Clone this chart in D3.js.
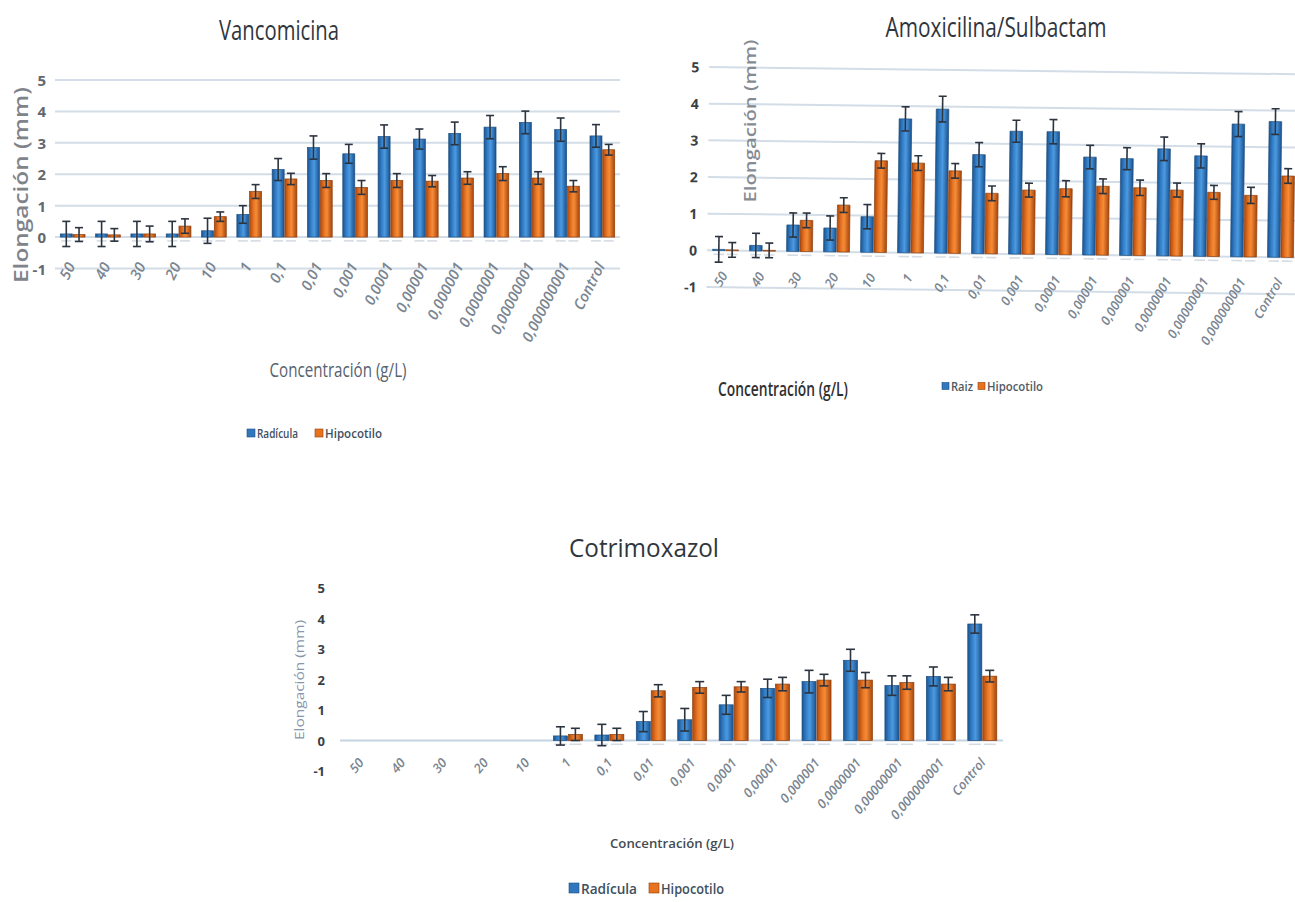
<!DOCTYPE html>
<html>
<head>
<meta charset="utf-8">
<script src="https://cdn.jsdelivr.net/npm/d3@7"></script>
<style>
  body { margin: 0; background: #fff; }
  svg { display: block; }
</style>
</head>
<body>
<svg id="fig" width="1295" height="902"></svg>
<script>
// Concentration categories (g/L), shared by the three panels
const categories = ["50", "40", "30", "20", "10", "1", "0,1", "0,01", "0,001", "0,0001",
  "0,00001", "0,000001", "0,0000001", "0,00000001", "0,000000001", "Control"];
const yTicks = [-1, 0, 1, 2, 3, 4, 5];

// Vancomicina: mean elongation (mm) and error
const vancoRadicula      = [0.10, 0.10, 0.10, 0.10, 0.20, 0.72, 2.15, 2.85, 2.65, 3.20, 3.12, 3.30, 3.50, 3.65, 3.42, 3.22];
const vancoRadiculaErr   = [0.40, 0.40, 0.40, 0.40, 0.40, 0.28, 0.35, 0.37, 0.30, 0.37, 0.32, 0.36, 0.37, 0.36, 0.37, 0.36];
const vancoHipocotilo    = [0.08, 0.07, 0.10, 0.35, 0.65, 1.45, 1.85, 1.80, 1.58, 1.80, 1.78, 1.88, 2.02, 1.88, 1.62, 2.78];
const vancoHipocotiloErr = [0.22, 0.20, 0.25, 0.23, 0.15, 0.22, 0.18, 0.22, 0.22, 0.22, 0.18, 0.20, 0.22, 0.20, 0.18, 0.17];

// Amoxicilina/Sulbactam
const amoxRaiz           = [0.03, 0.15, 0.72, 0.65, 0.97, 3.65, 3.93, 2.70, 3.35, 3.35, 2.67, 2.64, 2.92, 2.74, 3.62, 3.70];
const amoxRaizErr        = [0.35, 0.33, 0.33, 0.33, 0.33, 0.33, 0.35, 0.33, 0.30, 0.33, 0.32, 0.30, 0.32, 0.33, 0.34, 0.35];
const amoxHipocotilo     = [0.02, 0.02, 0.85, 1.28, 2.50, 2.45, 2.25, 1.65, 1.75, 1.80, 1.88, 1.85, 1.80, 1.75, 1.68, 2.22];
const amoxHipocotiloErr  = [0.20, 0.20, 0.20, 0.20, 0.20, 0.20, 0.20, 0.20, 0.19, 0.22, 0.20, 0.21, 0.19, 0.19, 0.22, 0.20];

// Cotrimoxazol (no growth recorded at the five highest concentrations)
const cotriRadicula      = [null, null, null, null, null, 0.15, 0.18, 0.62, 0.68, 1.17, 1.71, 1.93, 2.63, 1.80, 2.10, 3.82];
const cotriRadiculaErr   = [null, null, null, null, null, 0.30, 0.35, 0.33, 0.37, 0.31, 0.30, 0.37, 0.36, 0.32, 0.31, 0.30];
const cotriHipocotilo    = [null, null, null, null, null, 0.20, 0.20, 1.63, 1.74, 1.76, 1.85, 1.98, 1.98, 1.90, 1.85, 2.11];
const cotriHipocotiloErr = [null, null, null, null, null, 0.20, 0.20, 0.20, 0.19, 0.17, 0.22, 0.19, 0.25, 0.22, 0.22, 0.19];

const svg = d3.select("#fig");
const defs = svg.append("defs");
const FONT = "'Open Sans', 'Noto Sans', 'DejaVu Sans', sans-serif";

function gradient(id, stops) {
  const lg = defs.append("linearGradient").attr("id", id)
    .attr("x1", 0).attr("x2", 1).attr("y1", 0).attr("y2", 0);
  stops.forEach(([o, c]) => lg.append("stop").attr("offset", o).attr("stop-color", c));
}
gradient("gBlue",   [[0, "#1b5490"], [0.3, "#347fc8"], [0.55, "#4b9ae0"], [1, "#1a5190"]]);
gradient("gOrange", [[0, "#ad480c"], [0.35, "#eb7826"], [0.55, "#f58c37"], [1, "#a8450b"]]);

const seriesStyle = [
  { fill: "url(#gBlue)",   stroke: "#1e4f80", swatch: "#2f78c0" },
  { fill: "url(#gOrange)", stroke: "#8f3f0c", swatch: "#e8731f" }
];

function addText(parent, txt, o) {
  const t = parent.append("text").text(txt)
    .attr("x", o.x).attr("y", o.y)
    .attr("font-family", FONT)
    .attr("font-size", o.size)
    .attr("font-weight", o.weight || "normal")
    .attr("fill", o.color || "#404040")
    .attr("text-anchor", o.anchor || "middle")
    .attr("dominant-baseline", o.baseline || "central");
  if (o.len) t.attr("textLength", o.len).attr("lengthAdjust", "spacingAndGlyphs");
  if (o.rotate) t.attr("transform", `rotate(${o.rotate},${o.x},${o.y})`);
  return t;
}

function panel(p) {
  const root = svg.append("g");
  const g = root.append("g");
  const y = d3.scaleLinear().domain([-1, 5]).range(p.yRange);
  if (p.tilt) g.attr("transform", `rotate(${p.tilt},${p.xRange[0]},${y(0)})`);

  const x = d3.scaleBand().domain(categories).range(p.xRange)
    .paddingInner(0.3).paddingOuter(0.15);
  const xs = d3.scaleBand().domain([0, 1]).range([0, x.bandwidth()]).paddingInner(0.06);

  // horizontal gridlines
  g.selectAll("line.grid").data(p.gridTicks).enter().append("line")
    .attr("x1", p.gridX[0]).attr("x2", p.gridX[1])
    .attr("y1", d => y(d)).attr("y2", d => y(d))
    .attr("stroke", p.gridColor).attr("stroke-width", 2);

  // value axis tick labels
  g.selectAll("text.tick").data(yTicks).enter().append("text")
    .attr("x", p.tickX).attr("y", d => y(d))
    .attr("text-anchor", "end").attr("dominant-baseline", "central")
    .attr("font-family", FONT).attr("font-size", p.tickSize).attr("font-weight", "bold")
    .attr("fill", p.tickColor).text(d => d);

  p.series.forEach((s, k) => {
    const st = seriesStyle[k];
    const rows = categories.map((c, i) => ({ c, v: s.values[i], e: s.errors[i] }))
      .filter(d => d.v !== null);
    const bx = d => x(d.c) + xs(k);
    const bw = xs.bandwidth();

    // faint reflection under each bar
    g.selectAll(null).data(rows).enter().append("rect")
      .attr("x", d => bx(d) + 1).attr("width", bw - 2)
      .attr("y", y(0) + 3).attr("height", 1.6)
      .attr("fill", "#d6dce3");

    g.selectAll(null).data(rows).enter().append("rect")
      .attr("x", bx).attr("width", bw)
      .attr("y", d => y(Math.max(d.v, 0)))
      .attr("height", d => Math.abs(y(d.v) - y(0)))
      .attr("fill", st.fill).attr("stroke", st.stroke).attr("stroke-width", 0.7);

    // error bars
    const eb = g.selectAll(null).data(rows).enter().append("g")
      .attr("stroke", "#2c3440").attr("stroke-width", 1.6);
    const cx = d => bx(d) + bw / 2;
    eb.append("line").attr("x1", cx).attr("x2", cx)
      .attr("y1", d => y(d.v - d.e)).attr("y2", d => y(d.v + d.e));
    eb.append("line").attr("x1", d => cx(d) - p.cap).attr("x2", d => cx(d) + p.cap)
      .attr("y1", d => y(d.v + d.e)).attr("y2", d => y(d.v + d.e));
    eb.append("line").attr("x1", d => cx(d) - p.cap).attr("x2", d => cx(d) + p.cap)
      .attr("y1", d => y(d.v - d.e)).attr("y2", d => y(d.v - d.e));
  });

  // rotated category labels
  g.selectAll("text.cat").data(categories).enter().append("text")
    .attr("transform", d => `translate(${x(d) + x.bandwidth() / 2 + p.labelDx},${p.labelY}) rotate(${p.labelAngle})`)
    .attr("text-anchor", "end")
    .attr("font-family", FONT).attr("font-size", p.labelSize).attr("font-weight", 600)
    .attr("font-style", "italic")
    .attr("fill", p.labelColor).text(d => d);

  // titles
  addText(root, p.title, p.titleStyle);
  addText(root, "Elongación (mm)", p.yTitleStyle);
  addText(root, "Concentración (g/L)", p.xTitleStyle);

  // legend
  p.legend.forEach((it, k) => {
    root.append("rect").attr("x", it.sx).attr("y", p.legendY - it.ss / 2)
      .attr("width", it.ss).attr("height", it.ss)
      .attr("fill", seriesStyle[k].swatch).attr("stroke", seriesStyle[k].stroke).attr("stroke-width", 0.6);
    addText(root, it.label, { x: it.tx, y: p.legendY, size: p.legendSize, len: it.len,
      anchor: "start", color: p.legendColor, weight: 600 });
  });
}

// Vancomicina
panel({
  title: "Vancomicina",
  titleStyle: { x: 279, y: 29, size: 28, len: 120, color: "#30363e" },
  yTitleStyle: { x: 20, y: 185, size: 20, len: 196, weight: 600, rotate: -90, color: "#7f848b" },
  xTitleStyle: { x: 338, y: 369, size: 20, len: 137, color: "#56626e" },
  xRange: [55, 620], yRange: [268.5, 80], gridX: [55, 620],
  gridTicks: yTicks, gridColor: "#d3dde7",
  tickX: 46, tickSize: 15, tickColor: "#62686f",
  cap: 4, labelDx: 3, labelY: 266, labelAngle: -63, labelSize: 15, labelColor: "#7a8591",
  series: [
    { values: vancoRadicula, errors: vancoRadiculaErr },
    { values: vancoHipocotilo, errors: vancoHipocotiloErr }
  ],
  legendY: 433, legendSize: 13, legendColor: "#3e4f60",
  legend: [
    { label: "Radícula", sx: 247, ss: 8, tx: 257, len: 41 },
    { label: "Hipocotilo", sx: 315, ss: 8, tx: 325, len: 57 }
  ]
});

// Amoxicilina/Sulbactam (panel sits slightly tilted on the page)
panel({
  title: "Amoxicilina/Sulbactam",
  titleStyle: { x: 996, y: 26, size: 28, len: 221, color: "#30363e" },
  yTitleStyle: { x: 750, y: 121, size: 16, len: 163, weight: 600, rotate: -90, color: "#868b92" },
  xTitleStyle: { x: 783, y: 388, size: 20, len: 130, weight: 600, color: "#303030" },
  tilt: 0.7,
  xRange: [707, 1299], yRange: [287, 67], gridX: [707, 1320],
  gridTicks: yTicks, gridColor: "#d3dde7",
  tickX: 697, tickSize: 14, tickColor: "#3a3f45",
  cap: 4, labelDx: 3, labelY: 275, labelAngle: -60, labelSize: 13, labelColor: "#7a8591",
  series: [
    { values: amoxRaiz, errors: amoxRaizErr },
    { values: amoxHipocotilo, errors: amoxHipocotiloErr }
  ],
  legendY: 386, legendSize: 12, legendColor: "#505a64",
  legend: [
    { label: "Raiz", sx: 942, ss: 7, tx: 951, len: 22 },
    { label: "Hipocotilo", sx: 978, ss: 7, tx: 987, len: 56 }
  ]
});

// Cotrimoxazol
panel({
  title: "Cotrimoxazol",
  titleStyle: { x: 644, y: 547, size: 25, len: 150, color: "#30363e" },
  yTitleStyle: { x: 299, y: 680, size: 12, len: 120, rotate: -90, color: "#8796ab" },
  xTitleStyle: { x: 672, y: 843, size: 13, len: 124, weight: 600, color: "#444b52" },
  xRange: [340, 1003], yRange: [771, 588], gridX: [340, 1003],
  gridTicks: [0], gridColor: "#c6d4e1",
  tickX: 325, tickSize: 13, tickColor: "#3a3f45",
  cap: 4.5, labelDx: 4, labelY: 763, labelAngle: -50, labelSize: 13, labelColor: "#7a8591",
  series: [
    { values: cotriRadicula, errors: cotriRadiculaErr },
    { values: cotriHipocotilo, errors: cotriHipocotiloErr }
  ],
  legendY: 888, legendSize: 14, legendColor: "#3e4f60",
  legend: [
    { label: "Radícula", sx: 569, ss: 10, tx: 581, len: 56 },
    { label: "Hipocotilo", sx: 649, ss: 10, tx: 661, len: 63 }
  ]
});
</script>
</body>
</html>
